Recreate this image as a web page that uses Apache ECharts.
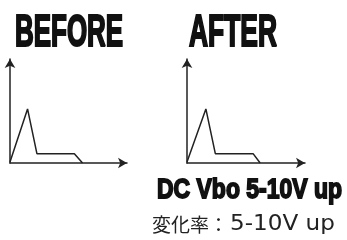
<!DOCTYPE html>
<html>
<head>
<meta charset="utf-8">
<script src="https://cdn.jsdelivr.net/npm/echarts@6/dist/echarts.min.js"></script>
<style>
  html, body { margin: 0; padding: 0; background: #fff; }
  #chart { width: 347px; height: 240px; }
</style>
</head>
<body>
<div id="chart"></div>
<script>
  // waveform shape, x and y in 0..100 axis units
  var beforeX = [0, 15, 23, 55, 62]
  var beforeY = [1, 52, 9, 9, 0]
  var afterX = [0, 16, 24, 56, 62]
  var afterY = [1, 52, 9, 9, 0]
  var titles = ['BEFORE', 'AFTER']
  var caption = 'DC Vbo 5-10V up'
  var noteCjk = '変化率：'
  var noteLatin = '5-10V up'

  function pairs (xs, ys) {
    return xs.map(function (x, i) { return [x, ys[i]] })
  }

  var chart = echarts.init(document.getElementById('chart'))
  var axisLine = {
    show: true,
    symbol: ['none', 'arrow'],
    symbolSize: [8, 9],
    lineStyle: { color: '#222', width: 1.5 }
  }
  function ax (idx) {
    return {
      type: 'value', gridIndex: idx, min: 0, max: 100,
      axisLine: axisLine, axisTick: { show: false },
      axisLabel: { show: false }, splitLine: { show: false }
    }
  }
  function lineSeries (idx, data) {
    return {
      type: 'line', xAxisIndex: idx, yAxisIndex: idx,
      data: data, symbol: 'none',
      lineStyle: { color: '#222', width: 1.5 }
    }
  }
  function bigText (x, y, text, size, sx, sw) {
    return {
      type: 'text', x: x, y: y, scaleX: sx,
      style: {
        text: text, x: 0, y: 0,
        font: 'bold ' + size + 'px "Liberation Sans", Arial, sans-serif',
        fill: '#111', stroke: '#111', lineWidth: sw,
        textVerticalAlign: 'top'
      }
    }
  }

  var option = {
    animation: false,
    grid: [
      { left: 10, top: 59, width: 117, height: 104 },
      { left: 187, top: 59, width: 118, height: 104 }
    ],
    xAxis: [ax(0), ax(1)],
    yAxis: [ax(0), ax(1)],
    series: [
      lineSeries(0, pairs(beforeX, beforeY)),
      lineSeries(1, pairs(afterX, afterY))
    ],
    graphic: [
      bigText(15, 12, titles[0], 44, 0.59, 2.2),
      bigText(189, 12, titles[1], 44, 0.6, 2.2),
      bigText(157, 176, caption, 28, 0.82, 1.8),
      {
        type: 'text', x: 152, y: 215,
        style: {
          text: noteCjk, x: 0, y: 0,
          font: '19px "Noto Sans CJK JP", sans-serif',
          fill: '#222', textVerticalAlign: 'top'
        }
      },
      {
        type: 'text', x: 230, y: 214, scaleX: 1.1,
        style: {
          text: noteLatin, x: 0, y: 0,
          font: '21px "DejaVu Sans", sans-serif',
          fill: '#222', textVerticalAlign: 'top'
        }
      }
    ]
  }
  chart.setOption(option)
</script>
</body>
</html>
